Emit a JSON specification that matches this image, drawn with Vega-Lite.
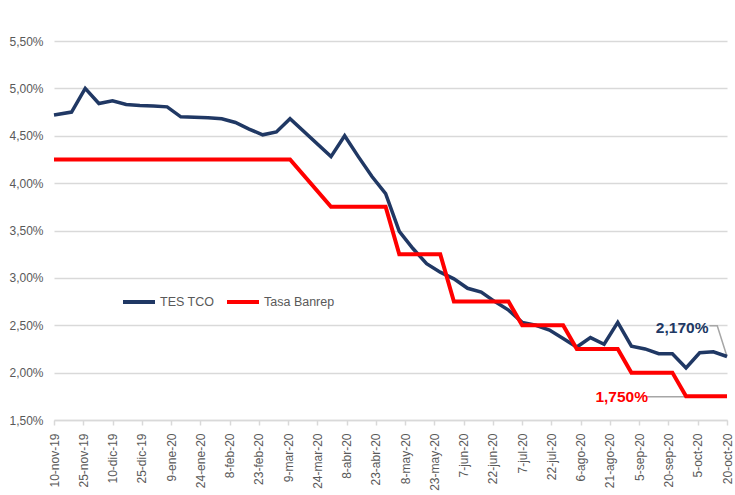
{
  "$schema": "https://vega.github.io/schema/vega-lite/v6.json",
  "width": 673,
  "height": 379,
  "autosize": "none",
  "padding": {"left": 54, "top": 41, "right": 8, "bottom": 75},
  "background": "white",
  "config": {
    "view": {"stroke": null},
    "font": "Liberation Sans, Arial, sans-serif"
  },
  "datasets": {
    "series": [
      {"d": "2019-11-10", "s": "TES TCO", "v": 4.72},
      {"d": "2019-11-19", "s": "TES TCO", "v": 4.75},
      {"d": "2019-11-26", "s": "TES TCO", "v": 5.0},
      {"d": "2019-12-03", "s": "TES TCO", "v": 4.84},
      {"d": "2019-12-10", "s": "TES TCO", "v": 4.87},
      {"d": "2019-12-17", "s": "TES TCO", "v": 4.83},
      {"d": "2019-12-24", "s": "TES TCO", "v": 4.82},
      {"d": "2019-12-31", "s": "TES TCO", "v": 4.815},
      {"d": "2020-01-07", "s": "TES TCO", "v": 4.805},
      {"d": "2020-01-14", "s": "TES TCO", "v": 4.7},
      {"d": "2020-01-21", "s": "TES TCO", "v": 4.695},
      {"d": "2020-01-28", "s": "TES TCO", "v": 4.69},
      {"d": "2020-02-04", "s": "TES TCO", "v": 4.68},
      {"d": "2020-02-11", "s": "TES TCO", "v": 4.64},
      {"d": "2020-02-18", "s": "TES TCO", "v": 4.57},
      {"d": "2020-02-25", "s": "TES TCO", "v": 4.51},
      {"d": "2020-03-03", "s": "TES TCO", "v": 4.54},
      {"d": "2020-03-10", "s": "TES TCO", "v": 4.68},
      {"d": "2020-03-31", "s": "TES TCO", "v": 4.28},
      {"d": "2020-04-07", "s": "TES TCO", "v": 4.5},
      {"d": "2020-04-14", "s": "TES TCO", "v": 4.28},
      {"d": "2020-04-21", "s": "TES TCO", "v": 4.07},
      {"d": "2020-04-28", "s": "TES TCO", "v": 3.89},
      {"d": "2020-05-05", "s": "TES TCO", "v": 3.49},
      {"d": "2020-05-12", "s": "TES TCO", "v": 3.31},
      {"d": "2020-05-19", "s": "TES TCO", "v": 3.15},
      {"d": "2020-05-26", "s": "TES TCO", "v": 3.06},
      {"d": "2020-06-02", "s": "TES TCO", "v": 2.99},
      {"d": "2020-06-09", "s": "TES TCO", "v": 2.89},
      {"d": "2020-06-16", "s": "TES TCO", "v": 2.85},
      {"d": "2020-06-23", "s": "TES TCO", "v": 2.75},
      {"d": "2020-06-30", "s": "TES TCO", "v": 2.66},
      {"d": "2020-07-07", "s": "TES TCO", "v": 2.53},
      {"d": "2020-07-14", "s": "TES TCO", "v": 2.5},
      {"d": "2020-07-21", "s": "TES TCO", "v": 2.45},
      {"d": "2020-07-28", "s": "TES TCO", "v": 2.36},
      {"d": "2020-08-04", "s": "TES TCO", "v": 2.27},
      {"d": "2020-08-11", "s": "TES TCO", "v": 2.37},
      {"d": "2020-08-18", "s": "TES TCO", "v": 2.3},
      {"d": "2020-08-25", "s": "TES TCO", "v": 2.53},
      {"d": "2020-09-01", "s": "TES TCO", "v": 2.28},
      {"d": "2020-09-08", "s": "TES TCO", "v": 2.25},
      {"d": "2020-09-15", "s": "TES TCO", "v": 2.2},
      {"d": "2020-09-22", "s": "TES TCO", "v": 2.2},
      {"d": "2020-09-29", "s": "TES TCO", "v": 2.05},
      {"d": "2020-10-06", "s": "TES TCO", "v": 2.21},
      {"d": "2020-10-13", "s": "TES TCO", "v": 2.22},
      {"d": "2020-10-20", "s": "TES TCO", "v": 2.17},
      {"d": "2019-11-10", "s": "Tasa Banrep", "v": 4.25},
      {"d": "2019-11-19", "s": "Tasa Banrep", "v": 4.25},
      {"d": "2019-11-26", "s": "Tasa Banrep", "v": 4.25},
      {"d": "2019-12-03", "s": "Tasa Banrep", "v": 4.25},
      {"d": "2019-12-10", "s": "Tasa Banrep", "v": 4.25},
      {"d": "2019-12-17", "s": "Tasa Banrep", "v": 4.25},
      {"d": "2019-12-24", "s": "Tasa Banrep", "v": 4.25},
      {"d": "2019-12-31", "s": "Tasa Banrep", "v": 4.25},
      {"d": "2020-01-07", "s": "Tasa Banrep", "v": 4.25},
      {"d": "2020-01-14", "s": "Tasa Banrep", "v": 4.25},
      {"d": "2020-01-21", "s": "Tasa Banrep", "v": 4.25},
      {"d": "2020-01-28", "s": "Tasa Banrep", "v": 4.25},
      {"d": "2020-02-04", "s": "Tasa Banrep", "v": 4.25},
      {"d": "2020-02-11", "s": "Tasa Banrep", "v": 4.25},
      {"d": "2020-02-18", "s": "Tasa Banrep", "v": 4.25},
      {"d": "2020-02-25", "s": "Tasa Banrep", "v": 4.25},
      {"d": "2020-03-03", "s": "Tasa Banrep", "v": 4.25},
      {"d": "2020-03-10", "s": "Tasa Banrep", "v": 4.25},
      {"d": "2020-03-31", "s": "Tasa Banrep", "v": 3.75},
      {"d": "2020-04-07", "s": "Tasa Banrep", "v": 3.75},
      {"d": "2020-04-14", "s": "Tasa Banrep", "v": 3.75},
      {"d": "2020-04-21", "s": "Tasa Banrep", "v": 3.75},
      {"d": "2020-04-28", "s": "Tasa Banrep", "v": 3.75},
      {"d": "2020-05-05", "s": "Tasa Banrep", "v": 3.25},
      {"d": "2020-05-12", "s": "Tasa Banrep", "v": 3.25},
      {"d": "2020-05-19", "s": "Tasa Banrep", "v": 3.25},
      {"d": "2020-05-26", "s": "Tasa Banrep", "v": 3.25},
      {"d": "2020-06-02", "s": "Tasa Banrep", "v": 2.75},
      {"d": "2020-06-09", "s": "Tasa Banrep", "v": 2.75},
      {"d": "2020-06-16", "s": "Tasa Banrep", "v": 2.75},
      {"d": "2020-06-23", "s": "Tasa Banrep", "v": 2.75},
      {"d": "2020-06-30", "s": "Tasa Banrep", "v": 2.75},
      {"d": "2020-07-07", "s": "Tasa Banrep", "v": 2.5},
      {"d": "2020-07-14", "s": "Tasa Banrep", "v": 2.5},
      {"d": "2020-07-21", "s": "Tasa Banrep", "v": 2.5},
      {"d": "2020-07-28", "s": "Tasa Banrep", "v": 2.5},
      {"d": "2020-08-04", "s": "Tasa Banrep", "v": 2.25},
      {"d": "2020-08-11", "s": "Tasa Banrep", "v": 2.25},
      {"d": "2020-08-18", "s": "Tasa Banrep", "v": 2.25},
      {"d": "2020-08-25", "s": "Tasa Banrep", "v": 2.25},
      {"d": "2020-09-01", "s": "Tasa Banrep", "v": 2.0},
      {"d": "2020-09-08", "s": "Tasa Banrep", "v": 2.0},
      {"d": "2020-09-15", "s": "Tasa Banrep", "v": 2.0},
      {"d": "2020-09-22", "s": "Tasa Banrep", "v": 2.0},
      {"d": "2020-09-29", "s": "Tasa Banrep", "v": 1.75},
      {"d": "2020-10-06", "s": "Tasa Banrep", "v": 1.75},
      {"d": "2020-10-13", "s": "Tasa Banrep", "v": 1.75},
      {"d": "2020-10-20", "s": "Tasa Banrep", "v": 1.75}
    ],
    "leaderBlue": [
      {"d": "2020-10-11", "v": 2.495},
      {"d": "2020-10-15", "v": 2.495},
      {"d": "2020-10-20", "v": 2.17}
    ],
    "leaderRed": [
      {"d": "2020-09-09", "v": 1.745},
      {"d": "2020-10-20", "v": 1.745}
    ],
    "labelBlue": [{"d": "2020-09-27", "v": 2.47, "t": "2,170%"}],
    "labelRed": [{"d": "2020-08-27", "v": 1.74, "t": "1,750%"}]
  },
  "encoding": {
    "x": {
      "field": "d",
      "type": "temporal",
      "scale": {
        "type": "utc",
        "domain": [
          {"year": 2019, "month": 11, "date": 10, "utc": true},
          {"year": 2020, "month": 10, "date": 20, "utc": true}
        ],
        "nice": false
      },
      "axis": {
        "title": null,
        "grid": false,
        "values": [
          {"year": 2019, "month": 11, "date": 10, "utc": true},
          {"year": 2019, "month": 11, "date": 25, "utc": true},
          {"year": 2019, "month": 12, "date": 10, "utc": true},
          {"year": 2019, "month": 12, "date": 25, "utc": true},
          {"year": 2020, "month": 1, "date": 9, "utc": true},
          {"year": 2020, "month": 1, "date": 24, "utc": true},
          {"year": 2020, "month": 2, "date": 8, "utc": true},
          {"year": 2020, "month": 2, "date": 23, "utc": true},
          {"year": 2020, "month": 3, "date": 9, "utc": true},
          {"year": 2020, "month": 3, "date": 24, "utc": true},
          {"year": 2020, "month": 4, "date": 8, "utc": true},
          {"year": 2020, "month": 4, "date": 23, "utc": true},
          {"year": 2020, "month": 5, "date": 8, "utc": true},
          {"year": 2020, "month": 5, "date": 23, "utc": true},
          {"year": 2020, "month": 6, "date": 7, "utc": true},
          {"year": 2020, "month": 6, "date": 22, "utc": true},
          {"year": 2020, "month": 7, "date": 7, "utc": true},
          {"year": 2020, "month": 7, "date": 22, "utc": true},
          {"year": 2020, "month": 8, "date": 6, "utc": true},
          {"year": 2020, "month": 8, "date": 21, "utc": true},
          {"year": 2020, "month": 9, "date": 5, "utc": true},
          {"year": 2020, "month": 9, "date": 20, "utc": true},
          {"year": 2020, "month": 10, "date": 5, "utc": true},
          {"year": 2020, "month": 10, "date": 20, "utc": true}
        ],
        "labelExpr": "utcdate(datum.value) + '-' + ['ene','feb','mar','abr','may','jun','jul','ago','sep','oct','nov','dic'][utcmonth(datum.value)] + '-' + utcFormat(datum.value, '%y')",
        "labelAngle": -90,
        "labelAlign": "right",
        "labelBaseline": "middle",
        "labelFontSize": 12,
        "labelColor": "#595959",
        "labelPadding": 8,
        "labelOverlap": false,
        "labelBound": false,
        "labelFlush": false,
        "domainColor": "#d9d9d9",
        "domainWidth": 1.5,
        "tickColor": "#d9d9d9",
        "tickWidth": 1.5,
        "tickSize": 5
      }
    },
    "y": {
      "field": "v",
      "type": "quantitative",
      "scale": {"domain": [1.5, 5.5], "nice": false, "zero": false},
      "axis": {
        "title": null,
        "values": [1.5, 2, 2.5, 3, 3.5, 4, 4.5, 5, 5.5],
        "labelExpr": "replace(format(datum.value, '.2f'), '.', ',') + '%'",
        "labelFontSize": 12,
        "labelColor": "#595959",
        "labelPadding": 11,
        "domain": false,
        "ticks": false,
        "gridColor": "#d9d9d9",
        "gridWidth": 1.5
      }
    }
  },
  "layer": [
    {
      "data": {"name": "leaderRed"},
      "mark": {"type": "line", "color": "#a6a6a6", "strokeWidth": 1.5}
    },
    {
      "data": {"name": "leaderBlue"},
      "mark": {"type": "line", "color": "#a6a6a6", "strokeWidth": 1.5}
    },
    {
      "data": {"name": "series"},
      "transform": [{"filter": "datum.s === 'TES TCO'"}],
      "mark": {"type": "line", "strokeWidth": 3.5, "strokeJoin": "miter"},
      "encoding": {
        "color": {
          "field": "s",
          "type": "nominal",
          "scale": {"domain": ["TES TCO", "Tasa Banrep"], "range": ["#203864", "#FF0000"]},
          "legend": {
            "title": null,
            "orient": "none",
            "legendX": 67,
            "legendY": 243,
            "direction": "horizontal",
            "symbolType": "stroke",
            "symbolSize": 1024,
            "symbolStrokeWidth": 4,
            "labelFontSize": 12.5,
            "labelColor": "#595959",
            "labelOffset": 3,
            "columnPadding": 4
          }
        }
      }
    },
    {
      "data": {"name": "series"},
      "transform": [{"filter": "datum.s === 'Tasa Banrep'"}],
      "mark": {"type": "line", "strokeWidth": 4, "strokeJoin": "miter"},
      "encoding": {
        "color": {"field": "s", "type": "nominal"}
      }
    },
    {
      "data": {"name": "labelBlue"},
      "mark": {"type": "text", "color": "#203864", "fontWeight": "bold", "fontSize": 15.5, "align": "center", "baseline": "middle"},
      "encoding": {"text": {"field": "t"}}
    },
    {
      "data": {"name": "labelRed"},
      "mark": {"type": "text", "color": "#FF0000", "fontWeight": "bold", "fontSize": 15.5, "align": "center", "baseline": "middle"},
      "encoding": {"text": {"field": "t"}}
    }
  ]
}
